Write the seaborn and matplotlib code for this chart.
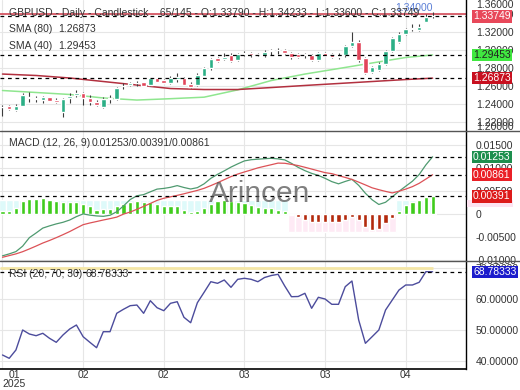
import numpy as np
import pandas as pd
import seaborn as sns
import matplotlib.pyplot as plt
from matplotlib.lines import Line2D
from matplotlib.patches import Rectangle
from matplotlib.transforms import blended_transform_factory

# GBPUSD daily candles, visible window (65 bars)
opens = [1.2367, 1.2378, 1.2333, 1.2381, 1.2481, 1.2470, 1.2444, 1.2474, 1.2444, 1.2314,
         1.2463, 1.2500, 1.2519, 1.2463, 1.2426, 1.2370, 1.2459, 1.2452, 1.2600, 1.2608,
         1.2633, 1.2641, 1.2611, 1.2686, 1.2667, 1.2630, 1.2674, 1.2692, 1.2619, 1.2611,
         1.2714, 1.2797, 1.2908, 1.2897, 1.2944, 1.2889, 1.2952, 1.2963, 1.2956, 1.2944,
         1.2989, 1.2997, 1.3000, 1.2963, 1.2952, 1.2948, 1.2944, 1.2889, 1.2963, 1.2952,
         1.2919, 1.2944, 1.3044, 1.3092, 1.2908, 1.2759, 1.2778, 1.2841, 1.2992, 1.3086,
         1.3174, 1.3237, 1.3222, 1.3314, 1.33790]
highs = [1.2389, 1.2394, 1.2397, 1.2519, 1.2537, 1.2489, 1.2489, 1.2480, 1.2463, 1.2463,
         1.2519, 1.2556, 1.2537, 1.2500, 1.2444, 1.2474, 1.2500, 1.2592, 1.2637, 1.2648,
         1.2656, 1.2648, 1.2692, 1.2694, 1.2678, 1.2706, 1.2741, 1.2700, 1.2648, 1.2741,
         1.2814, 1.2914, 1.2926, 1.2963, 1.2963, 1.2963, 1.2989, 1.2981, 1.2970, 1.3000,
         1.3008, 1.3019, 1.3011, 1.2981, 1.2967, 1.2970, 1.2956, 1.2981, 1.2981, 1.2970,
         1.2963, 1.3056, 1.3197, 1.3111, 1.2926, 1.2826, 1.2870, 1.3000, 1.3148, 1.3197,
         1.3248, 1.3286, 1.3286, 1.3397, 1.34233]
lows = [1.2267, 1.2333, 1.2322, 1.2381, 1.2426, 1.2426, 1.2408, 1.2433, 1.2408, 1.2260,
        1.2408, 1.2481, 1.2389, 1.2389, 1.2378, 1.2352, 1.2408, 1.2444, 1.2563, 1.2600,
        1.2600, 1.2597, 1.2600, 1.2641, 1.2628, 1.2622, 1.2648, 1.2606, 1.2581, 1.2603,
        1.2708, 1.2778, 1.2870, 1.2889, 1.2870, 1.2881, 1.2933, 1.2926, 1.2933, 1.2926,
        1.2944, 1.2952, 1.2956, 1.2900, 1.2911, 1.2914, 1.2883, 1.2878, 1.2933, 1.2908,
        1.2897, 1.2926, 1.3037, 1.2863, 1.2733, 1.2741, 1.2767, 1.2833, 1.2981, 1.3081,
        1.3167, 1.3214, 1.3214, 1.3308, 1.33600]
closes = [1.2372, 1.2350, 1.2381, 1.2500, 1.2470, 1.2459, 1.2474, 1.2437, 1.2419, 1.2452,
          1.2489, 1.2526, 1.2463, 1.2426, 1.2389, 1.2452, 1.2467, 1.2581, 1.2603, 1.2637,
          1.2637, 1.2603, 1.2686, 1.2648, 1.2637, 1.2692, 1.2697, 1.2611, 1.2592, 1.2722,
          1.2803, 1.2897, 1.2881, 1.2919, 1.2881, 1.2952, 1.2970, 1.2948, 1.2950, 1.2981,
          1.3000, 1.3000, 1.2963, 1.2919, 1.2926, 1.2952, 1.2894, 1.2963, 1.2937, 1.2926,
          1.2933, 1.3044, 1.3086, 1.2889, 1.2748, 1.2808, 1.2841, 1.2992, 1.3130, 1.3178,
          1.3233, 1.3241, 1.3259, 1.3370, 1.33749]

# moving averages, read every 5 bars
sma_idx = [0, 5, 10, 15, 20, 25, 30, 35, 40, 45, 50, 55, 60, 64]
sma40 = [1.2550, 1.2528, 1.2506, 1.2467, 1.2444, 1.2459, 1.2476, 1.2557, 1.2661, 1.2733,
         1.2794, 1.2856, 1.2917, 1.29453]
sma80 = [1.2733, 1.2717, 1.2689, 1.2650, 1.2611, 1.2572, 1.2561, 1.2561, 1.2583, 1.2606,
         1.2628, 1.2650, 1.2672, 1.26873]

macd = [-0.00907, -0.00865, -0.00815, -0.00696, -0.00511, -0.00409, -0.00302, -0.00254, -0.00211, -0.00176,
        -0.00126, -0.00052, 0.00007, -0.00020, -0.00037, -0.00046, -0.00022, 0.00054, 0.00180, 0.00320,
        0.00402, 0.00428, 0.00489, 0.00548, 0.00563, 0.00587, 0.00624, 0.00583, 0.00550, 0.00580,
        0.00663, 0.00783, 0.00870, 0.00946, 0.01028, 0.01098, 0.01163, 0.01189, 0.01200, 0.01211,
        0.01220, 0.01207, 0.01185, 0.01109, 0.01022, 0.00950, 0.00891, 0.00846, 0.00783, 0.00711,
        0.00663, 0.00715, 0.00761, 0.00630, 0.00457, 0.00315, 0.00213, 0.00261, 0.00380, 0.00500,
        0.00611, 0.00720, 0.00865, 0.01076, 0.01253]
signal = [-0.00939, -0.00902, -0.00865, -0.00817, -0.00757, -0.00694, -0.00628, -0.00572, -0.00511, -0.00446,
          -0.00378, -0.00302, -0.00228, -0.00191, -0.00159, -0.00126, -0.00096, -0.00063, 0.00002, 0.00048,
          0.00107, 0.00170, 0.00235, 0.00302, 0.00348, 0.00380, 0.00411, 0.00446, 0.00483, 0.00520,
          0.00565, 0.00624, 0.00687, 0.00754, 0.00820, 0.00876, 0.00922, 0.00965, 0.01011, 0.01046,
          0.01080, 0.01115, 0.01111, 0.01087, 0.01061, 0.01024, 0.00985, 0.00946, 0.00907, 0.00885,
          0.00843, 0.00802, 0.00759, 0.00700, 0.00639, 0.00576, 0.00535, 0.00498, 0.00465, 0.00502,
          0.00548, 0.00602, 0.00674, 0.00767, 0.00861]
hist = [0.0006, 0.0008, 0.00135, 0.0028, 0.0033, 0.00337, 0.0035, 0.00315, 0.0028, 0.0027,
        0.0027, 0.00265, 0.0022, 0.0017, 0.001, 0.0011, 0.0011, 0.0017, 0.0022, 0.00265,
        0.0028, 0.0026, 0.0026, 0.0022, 0.0018, 0.0017, 0.0017, 0.001, 0.0004, 0.0008,
        0.00135, 0.0022, 0.0028, 0.00315, 0.0028, 0.0026, 0.0024, 0.0021, 0.0016, 0.00135,
        0.00126, 0.001, 0.0006, -0.0001, -0.0006, -0.0012, -0.0016, -0.0016, -0.0016, -0.0018,
        -0.0018, -0.0012, -0.0005, -0.0012, -0.0028, -0.0034, -0.0032, -0.0019, -0.0008, 0.0006,
        0.0021, 0.0026, 0.003, 0.0037, 0.00391]

rsi = [41.94, 40.87, 43.55, 50.00, 48.71, 48.16, 48.94, 47.32, 46.03, 48.39,
       50.32, 51.61, 47.84, 46.03, 44.29, 49.45, 49.45, 55.39, 56.68, 57.84,
       58.06, 55.39, 59.45, 57.19, 56.23, 58.61, 59.13, 54.10, 52.35, 58.81,
       62.16, 65.58, 65.06, 66.13, 63.77, 66.35, 66.68, 66.35, 65.58, 66.94,
       67.58, 67.97, 64.19, 60.74, 60.81, 61.84, 57.00, 60.55, 60.00, 58.29,
       58.29, 63.97, 65.81, 53.23, 45.71, 47.84, 50.00, 56.45, 59.68, 62.90,
       64.52, 64.52, 65.39, 68.81, 68.78333]

x_labels = ["01\n2025", "02", "02", "03", "03", "04"]
price_ticks = [1.22, 1.24, 1.26, 1.28, 1.30, 1.32, 1.34]
macd_ticks = [-0.01, -0.005, 0, 0.005, 0.01, 0.015]
rsi_ticks = [40, 50, 60, 70]
high_mark = 1.34

UP, DOWN = "#2caf86", "#e2455a"
TXT = "#333333"

sns.set_style("white")
plt.rcParams["font.family"] = ["Liberation Sans Narrow", "Liberation Sans", "DejaVu Sans"]
plt.rcParams["font.size"] = 7.5

W, H = 520, 390
fig = plt.figure(figsize=(W / 100, H / 100), dpi=100)


def box(top, bottom, right=466):
    return [0, 1 - bottom / H, right / W, (bottom - top) / H]


ax1 = fig.add_axes(box(0, 131))
ax2 = fig.add_axes(box(131, 261), sharex=ax1)
ax3 = fig.add_axes(box(261, 369), sharex=ax1)

df = pd.DataFrame(dict(o=opens, h=highs, l=lows, c=closes))
df["i"] = np.arange(len(df))
up = df.c >= df.o
body = (df.c - df.o).abs().clip(lower=0.0003)
mid = (df.c + df.o) / 2

# --- price panel
ax1.vlines(df.i, df.l, df.h, color="#3c3c3c", lw=0.8, zorder=3)
ax1.bar(df.i, body, bottom=mid - body / 2, width=0.68,
        color=np.where(up, UP, DOWN), zorder=4)
sns.lineplot(x=sma_idx, y=sma40, ax=ax1, color="#8fe68f", linewidth=1.1, zorder=2)
sns.lineplot(x=sma_idx, y=sma80, ax=ax1, color="#b2303f", linewidth=1.1, zorder=2)
ax1.axhline(high_mark, color="#d34a58", lw=1.2, zorder=2)
for v in [closes[-1], sma40[-1], sma80[-1]]:
    ax1.axhline(v, color="black", lw=0.9, ls=(0, (3, 3)), zorder=5)
ax1.text(df.i.iloc[-1], 1.3467, f"{high_mark:.5f}", color="#5b7fd6", ha="right",
         va="center", fontsize=7.5, zorder=6)
ax1.set_ylim(1.21, 1.3556)
ax1.set_yticks(price_ticks)
ax1.set_yticklabels([f"{v:.5f}" for v in price_ticks])

# --- MACD panel
hcol = np.where(np.array(hist) >= 0, "#3fcc1c", "#b3290c")
shade = np.where(np.array(hist) >= 0, 0.003, -0.0038)
ax2.bar(df.i, shade, width=1.0, color=np.where(shade > 0, "#defafa", "#feeaf5"), zorder=1)
ax2.bar(df.i, hist, width=0.62, color=hcol, zorder=2)
sns.lineplot(x=df.i, y=macd, ax=ax2, color="#4f9a70", linewidth=0.9, zorder=3)
sns.lineplot(x=df.i, y=signal, ax=ax2, color="#dc5257", linewidth=0.9, zorder=3)
for v in [macd[-1], signal[-1], hist[-1]]:
    ax2.axhline(v, color="black", lw=0.9, ls=(0, (3, 3)), zorder=5)
ax2.text(38.3, 0.0045, "Arincen", fontsize=21.5, color="#555555", alpha=0.75,
         ha="center", va="center", zorder=6)
ax2.set_ylim(-0.0102, 0.01815)
ax2.set_yticks(macd_ticks)
ax2.set_yticklabels(["0" if v == 0 else f"{v:.5f}" for v in macd_ticks])

# --- RSI panel
ax3.hlines(70, -0.4, df.i.iloc[-1], color="#f4e6a6", lw=2, zorder=2)
sns.lineplot(x=df.i, y=rsi, ax=ax3, color="#4c4c9c", linewidth=1.0, zorder=3)
ax3.axhline(rsi[-1], color="black", lw=0.9, ls=(0, (3, 3)), zorder=5)
ax3.set_ylim(37.42, 72.26)
ax3.set_yticks(rsi_ticks)
ax3.set_yticklabels([f"{v:.5f}" for v in rsi_ticks])

ax1.set_xlim(-0.37, 68.97)
ax3.set_xticks(range(0, len(df), 12))
ax3.set_xticklabels(x_labels, linespacing=0.85)
ax3.get_xticklabels()[0].set_horizontalalignment("left")
ax3.get_xticklabels()[0].set_multialignment("center")

for ax in (ax1, ax2, ax3):
    ax.yaxis.tick_right()
    ax.tick_params(axis="y", length=0, pad=7, labelsize=7.5, labelcolor=TXT)
    ax.tick_params(axis="x", length=0, pad=1, labelsize=7.5, labelcolor=TXT)
    ax.grid(True, color="#e6e6e6", lw=0.8)
    ax.set_axisbelow(True)
    ax.set_xlabel("")
    ax.set_ylabel("")
    for s in ("top", "left", "bottom"):
        ax.spines[s].set_visible(False)
    ax.spines["right"].set_color("black")
    ax.spines["right"].set_linewidth(1.0)
for ax in (ax1, ax2):
    ax.tick_params(axis="x", labelbottom=False)
ax3.spines["bottom"].set_visible(True)
ax3.spines["bottom"].set_color("black")
ax3.spines["bottom"].set_linewidth(1.2)

# edge tick labels pushed inside the price panel
edge = blended_transform_factory(fig.transFigure, ax1.transAxes)
ax1.text(476 / W, 0.965, "1.36000", transform=edge, color=TXT, va="center", ha="left", fontsize=7.5)
ax1.text(476 / W, 0.03, "1.20000", transform=edge, color=TXT, va="center", ha="left", fontsize=7.5)

# panel separators
for y in (131, 261):
    fig.add_artist(Line2D([0, 1], [1 - y / H, 1 - y / H], color="#555555", lw=1.0))

# faint band behind the histogram tag
fig.add_artist(Rectangle((467 / W, 1 - 207 / H), 46 / W, 7 / H, transform=fig.transFigure,
                         fc="#fde3f1", ec="none", zorder=1))

# value tags on the right axis
tags = [
    (ax1, closes[-1], "#e8485a", "white"),
    (ax1, sma40[-1], "#40e840", "#222222"),
    (ax1, sma80[-1], "#c8101f", "white"),
    (ax2, macd[-1], "#1d8f4e", "white"),
    (ax2, signal[-1], "#ea2027", "white"),
    (ax2, hist[-1], "#dd1a1a", "white"),
    (ax3, rsi[-1], "#1c1ccc", "white"),
]
for ax, v, bg, fg in tags:
    fig.text(473 / W, v, f"{v:.5f}", transform=blended_transform_factory(fig.transFigure, ax.transData),
             color=fg, ha="left", va="center", fontsize=7.5, zorder=10,
             bbox=dict(boxstyle="square,pad=0.12", fc=bg, ec="none"))


# indicator captions
def cap(x, y, s):
    fig.text(x / W, 1 - y / H, s, color=TXT, fontsize=7.5, ha="left", va="center", zorder=10)


cap(9, 12.5, "GBPUSD - Daily - Candlestick    65/145 - O:%.5f - H:%.5f - L:%.5f - C:%.5f"
    % (opens[-1], highs[-1], lows[-1], closes[-1]))
cap(9, 29.5, "SMA (80)")
cap(58, 29.5, f"{sma80[-1]:.5f}")
cap(9, 46, "SMA (40)")
cap(58, 46, f"{sma40[-1]:.5f}")
cap(9, 143.5, "MACD (12, 26, 9)")
cap(92, 143.5, f"{macd[-1]:.5f}/{hist[-1]:.5f}/{signal[-1]:.5f}")
cap(9, 274, "RSI (20, 70, 30)")
cap(85, 274, f"{rsi[-1]:.5f}")

fig.savefig("out.png", dpi=100)
